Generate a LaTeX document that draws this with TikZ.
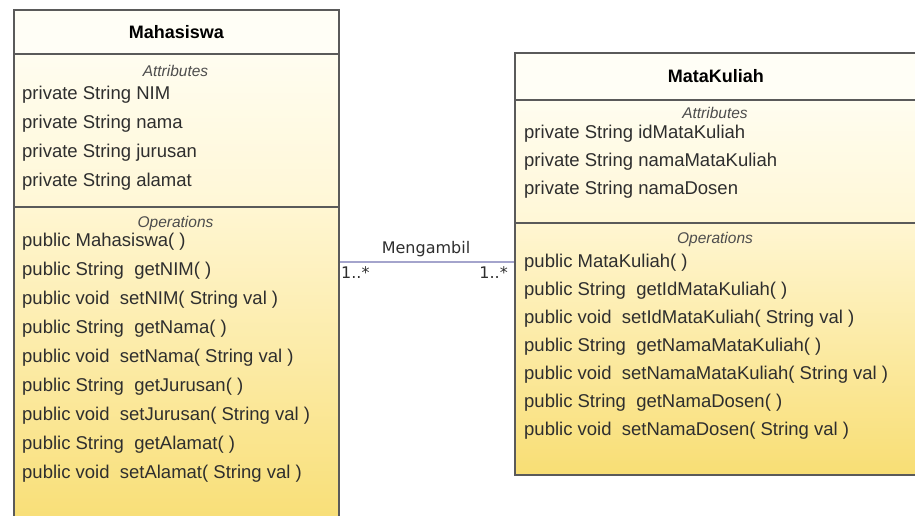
\documentclass[tikz,border=0pt]{standalone}
\usepackage{fontspec}
\setmainfont{Liberation Sans}
\newfontfamily\relfont{DejaVu Sans}
\definecolor{boxline}{HTML}{5A5A5A}
\definecolor{headfill}{HTML}{FFFEF6}
\definecolor{attrtop}{HTML}{FFFDF0}
\definecolor{attrbot}{HTML}{FFF7D6}
\definecolor{opstop}{HTML}{FFF6D2}
\definecolor{opsbot}{HTML}{F8DE74}
\definecolor{assocline}{HTML}{A4A4CC}
\definecolor{membertext}{HTML}{2E2E2E}
\begin{document}
\begin{tikzpicture}[x=1pt,y=-1pt,
    section/.style={draw=boxline,line width=1.8pt,anchor=north west,inner sep=0pt},
    headbox/.style={section,fill=headfill,font=\fontsize{18}{22}\selectfont\bfseries},
    attrbox/.style={section,top color=attrtop,bottom color=attrbot},
    opsbox/.style={section,top color=opstop,bottom color=opsbot},
    member/.style={anchor=west,inner sep=0pt,text=membertext,font=\fontsize{18.5}{22}\selectfont},
    partlabel/.style={inner sep=0pt,text=membertext!85,font=\fontsize{15.5}{18}\selectfont\itshape},
    rolelabel/.style={inner sep=1pt,text=membertext,font=\relfont\fontsize{16}{19}\selectfont}]
    \useasboundingbox (0,0) rectangle (915,515);
    % Classes
        % Mahasiswa
        \node[headbox,minimum width=325pt,minimum height=44pt] (mhsHead) at (13,9) {Mahasiswa};
        \node[attrbox,minimum width=325pt,minimum height=153pt] (mhsAttr) at (13,53) {};
        \node[opsbox,minimum width=325pt,minimum height=324pt] (mhsOps) at (13,206) {};
        \node[partlabel] (mhsAttrLabel) at (175.5,71) {Attributes};
        \node[partlabel] (mhsOpsLabel) at (175.5,223) {Operations};
        \foreach \t [count=\i] in {NIM,nama,jurusan,alamat}{
            \node[member] (mhsAttr\i) at (22,{66+29*\i}) {private String \t};
        }
        \foreach \t [count=\i] in {public Mahasiswa( ),
            public String\ \ getNIM( ),public void\ \ setNIM( String val ),
            public String\ \ getNama( ),public void\ \ setNama( String val ),
            public String\ \ getJurusan( ),public void\ \ setJurusan( String val ),
            public String\ \ getAlamat( ),public void\ \ setAlamat( String val )}{
            \node[member] (mhsOp\i) at (22,{213+29*\i}) {\t};
        }
        % MataKuliah
        \node[headbox,minimum width=402pt,minimum height=47pt] (mkHead) at (514,52) {MataKuliah};
        \node[attrbox,minimum width=402pt,minimum height=123pt] (mkAttr) at (514,99) {};
        \node[opsbox,minimum width=402pt,minimum height=252pt] (mkOps) at (514,222) {};
        \node[partlabel] (mkAttrLabel) at (715,113) {Attributes};
        \node[partlabel] (mkOpsLabel) at (715,239) {Operations};
        \foreach \t [count=\i] in {idMataKuliah,namaMataKuliah,namaDosen}{
            \node[member] (mkAttr\i) at (524,{106+28*\i}) {private String \t};
        }
        \foreach \t [count=\i] in {public MataKuliah( ),
            public String\ \ getIdMataKuliah( ),public void\ \ setIdMataKuliah( String val ),
            public String\ \ getNamaMataKuliah( ),public void\ \ setNamaMataKuliah( String val ),
            public String\ \ getNamaDosen( ),public void\ \ setNamaDosen( String val )}{
            \node[member] (mkOp\i) at (524,{235+28*\i}) {\t};
        }
    % Association
        \coordinate (relMid) at (426,262);
        \node[rolelabel,anchor=south] (rel) at (426,258) {Mengambil};
        \draw[assocline,line width=1.5pt] (mhsOps.east |- relMid) -- (mkOps.west |- relMid);
        \node[rolelabel,anchor=north west] (multL) at (340,265) {1..*};
        \node[rolelabel,anchor=north east] (multR) at (509,265) {1..*};
\end{tikzpicture}
\end{document}
